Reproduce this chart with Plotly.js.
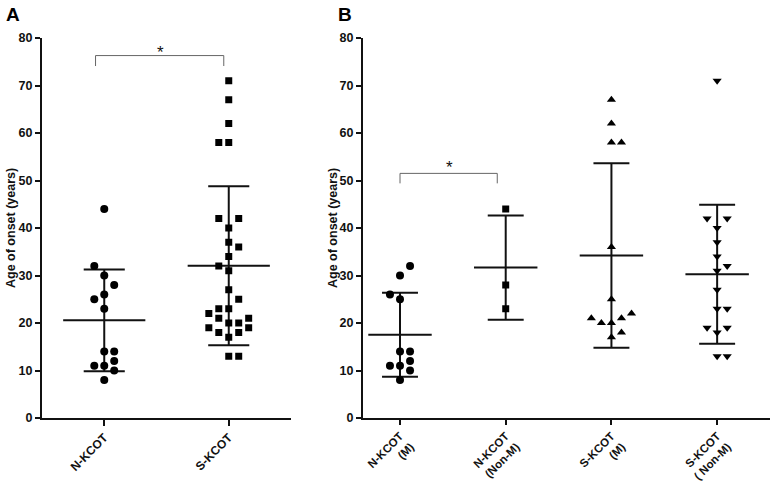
<!DOCTYPE html>
<html><head><meta charset="utf-8">
<script src="https://cdn.plot.ly/plotly-3.0.1.min.js"></script>
<style>html,body{margin:0;padding:0;background:#fff}#chart{width:775px;height:484px}</style>
</head><body><div id="chart"></div>
<script>
// ---- data ----
const catsA = ['N-KCOT', 'S-KCOT'];
const nkcot = [44, 32, 30, 28, 26, 25, 23, 14, 14, 12, 11, 11, 10, 8];
const skcot = [71, 67, 62, 58, 58, 42, 42, 40, 37, 36, 34, 32, 31, 27, 25, 23, 23, 22, 21, 21, 20, 20, 19, 19, 18, 18, 17, 13, 13];

const catsB = ['N-KCOT<br>(M)', 'N-KCOT<br>(Non-M)', 'S-KCOT<br>(M)', 'S-KCOT<br>( Non-M)'];
const nkcotM = [32, 30, 26, 25, 14, 14, 12, 11, 11, 10, 8];
const nkcotNonM = [44, 28, 23];
const skcotM = [67, 62, 58, 58, 36, 25, 22, 21, 21, 20, 20, 18, 17];
const skcotNonM = [71, 42, 42, 40, 37, 34, 32, 31, 27, 23, 23, 19, 19, 18, 13, 13];

const yTicks = [0, 10, 20, 30, 40, 50, 60, 70, 80];

// ---- layout helpers: horizontal spread slots for overlapping points ----
const slotNA = [0, -1, 0, 1, 0, -1, 0, 0, 1, 1, -1, 0, 1, 0];
const slotSA = [0, 0, 0, -1, 0, -1, 1, 0, 0, 1, 0, -1, 0, 0, 1, -1, 0, -2, -1, 2, 0, 1, -2, 2, -1, 1, 0, 0, 1];
const slotNM = [1, 0, -1, 0, 0, 1, 1, -1, 0, 1, 0];
const slotNN = [0, 0, 0];
const slotSM = [0, 0, 0, 1, 0, 0, 2, -2, 1, -1, 0, 1, 0];
const slotSN = [0, -1, 1, 0, 0, 0, 1, 0, 0, 0, 1, -1, 1, 0, 0, 1];

function mean(a) { return a.reduce((s, v) => s + v, 0) / a.length; }
function sd(a) { const m = mean(a); return Math.sqrt(a.reduce((s, v) => s + (v - m) * (v - m), 0) / (a.length - 1)); }

const traces = [];
function addGroup(vals, slots, idx, step, symbol, size, xa, ya, halfMean, halfCap) {
  const m = mean(vals), s = sd(vals);
  traces.push({
    type: 'scatter', mode: 'lines', xaxis: xa, yaxis: ya, hoverinfo: 'skip', showlegend: false,
    x: [idx - halfMean, idx + halfMean, null, idx, idx, null, idx - halfCap, idx + halfCap, null, idx - halfCap, idx + halfCap],
    y: [m, m, null, m - s, m + s, null, m + s, m + s, null, m - s, m - s],
    line: { color: '#111', width: 2 }
  });
  traces.push({
    type: 'scatter', mode: 'markers', xaxis: xa, yaxis: ya, showlegend: false,
    x: vals.map((v, i) => idx + slots[i] * step), y: vals,
    marker: { symbol: symbol, size: size, color: '#000' }
  });
}

addGroup(nkcot, slotNA, 0, 0.08, 'circle', 8, 'x', 'y', 0.33, 0.165);
addGroup(skcot, slotSA, 1, 0.08, 'square', 7, 'x', 'y', 0.33, 0.165);
addGroup(nkcotM, slotNM, 0, 0.095, 'circle', 8, 'x2', 'y2', 0.3, 0.17);
addGroup(nkcotNonM, slotNN, 1, 0.095, 'square', 7, 'x2', 'y2', 0.3, 0.17);
addGroup(skcotM, slotSM, 2, 0.095, 'triangle-up', 8, 'x2', 'y2', 0.3, 0.17);
addGroup(skcotNonM, slotSN, 3, 0.095, 'triangle-down', 8, 'x2', 'y2', 0.3, 0.17);

const tickFont = { family: 'Liberation Sans, Arial, sans-serif', size: 12.5, color: '#111', weight: 'bold' };
const titleFont = { family: 'Liberation Sans, Arial, sans-serif', size: 12.5, color: '#111', weight: 'bold' };
const xTickFontA = { family: 'Liberation Sans, Arial, sans-serif', size: 12, color: '#111', weight: 'bold' };
const xTickFontB = { family: 'Liberation Sans, Arial, sans-serif', size: 11.5, color: '#111', weight: 'bold' };
const yDom = [66 / 484, 446 / 484];

function yAxis(anchor) {
  return {
    domain: yDom, anchor: anchor, range: [0, 80], tickvals: yTicks, ticktext: yTicks.map(String),
    showgrid: false, zeroline: false, showline: true, linecolor: '#111', linewidth: 2,
    ticks: 'outside', ticklen: 5, tickwidth: 2, tickcolor: '#111', tickfont: tickFont, fixedrange: true
  };
}
function xAxis(anchor, dom, rng, cats, font, len) {
  return {
    domain: dom, anchor: anchor, range: rng, tickvals: cats.map((c, i) => i), ticktext: cats,
    tickangle: -45, showgrid: false, zeroline: false, showline: true, linecolor: '#111', linewidth: 2,
    ticks: 'outside', ticklen: len, tickwidth: 2, tickcolor: '#111', tickfont: font, fixedrange: true
  };
}

const letterFont = { family: 'Liberation Sans, Arial', size: 19, color: '#000', weight: 'bold' };
const starFont = { family: 'Liberation Sans, Arial', size: 17, color: '#111' };

const layout = {
  width: 775, height: 484, margin: { l: 0, r: 0, t: 0, b: 0 },
  paper_bgcolor: '#fff', plot_bgcolor: '#fff', showlegend: false,
  xaxis: xAxis('y', [42 / 775, 291 / 775], [-0.5, 1.5], catsA, xTickFontA, 6),
  yaxis: yAxis('x'),
  xaxis2: xAxis('y2', [363 / 775, 770 / 775], [-0.35, 3.5], catsB, xTickFontB, 5),
  yaxis2: yAxis('x2'),
  shapes: [
    { type: 'path', xref: 'x', yref: 'y', path: 'M -0.07 74.1 L -0.07 76.3 L 0.96 76.3 L 0.96 74.1', line: { color: '#666', width: 1 } },
    { type: 'path', xref: 'x2', yref: 'y2', path: 'M 0 49.4 L 0 51.5 L 0.92 51.5 L 0.92 49.4', line: { color: '#666', width: 1 } }
  ],
  annotations: [
    { text: '*', xref: 'x', yref: 'y', x: 0.45, y: 76.9, xanchor: 'center', yanchor: 'middle', showarrow: false, font: starFont },
    { text: '*', xref: 'x2', yref: 'y2', x: 0.47, y: 52.8, xanchor: 'center', yanchor: 'middle', showarrow: false, font: starFont },
    { text: 'Age of onset (years)', xref: 'paper', yref: 'paper', x: 11 / 775, y: (484 - 228) / 484, xanchor: 'center', yanchor: 'middle', textangle: -90, showarrow: false, font: titleFont },
    { text: 'Age of onset (years)', xref: 'paper', yref: 'paper', x: 333 / 775, y: (484 - 228) / 484, xanchor: 'center', yanchor: 'middle', textangle: -90, showarrow: false, font: titleFont },
    { text: 'A', xref: 'paper', yref: 'paper', x: 13 / 775, y: (484 - 14) / 484, xanchor: 'center', yanchor: 'middle', showarrow: false, font: letterFont },
    { text: 'B', xref: 'paper', yref: 'paper', x: 345 / 775, y: (484 - 14) / 484, xanchor: 'center', yanchor: 'middle', showarrow: false, font: letterFont }
  ]
};

Plotly.newPlot('chart', traces, layout, { displayModeBar: false, staticPlot: true });
</script>
</body></html>
